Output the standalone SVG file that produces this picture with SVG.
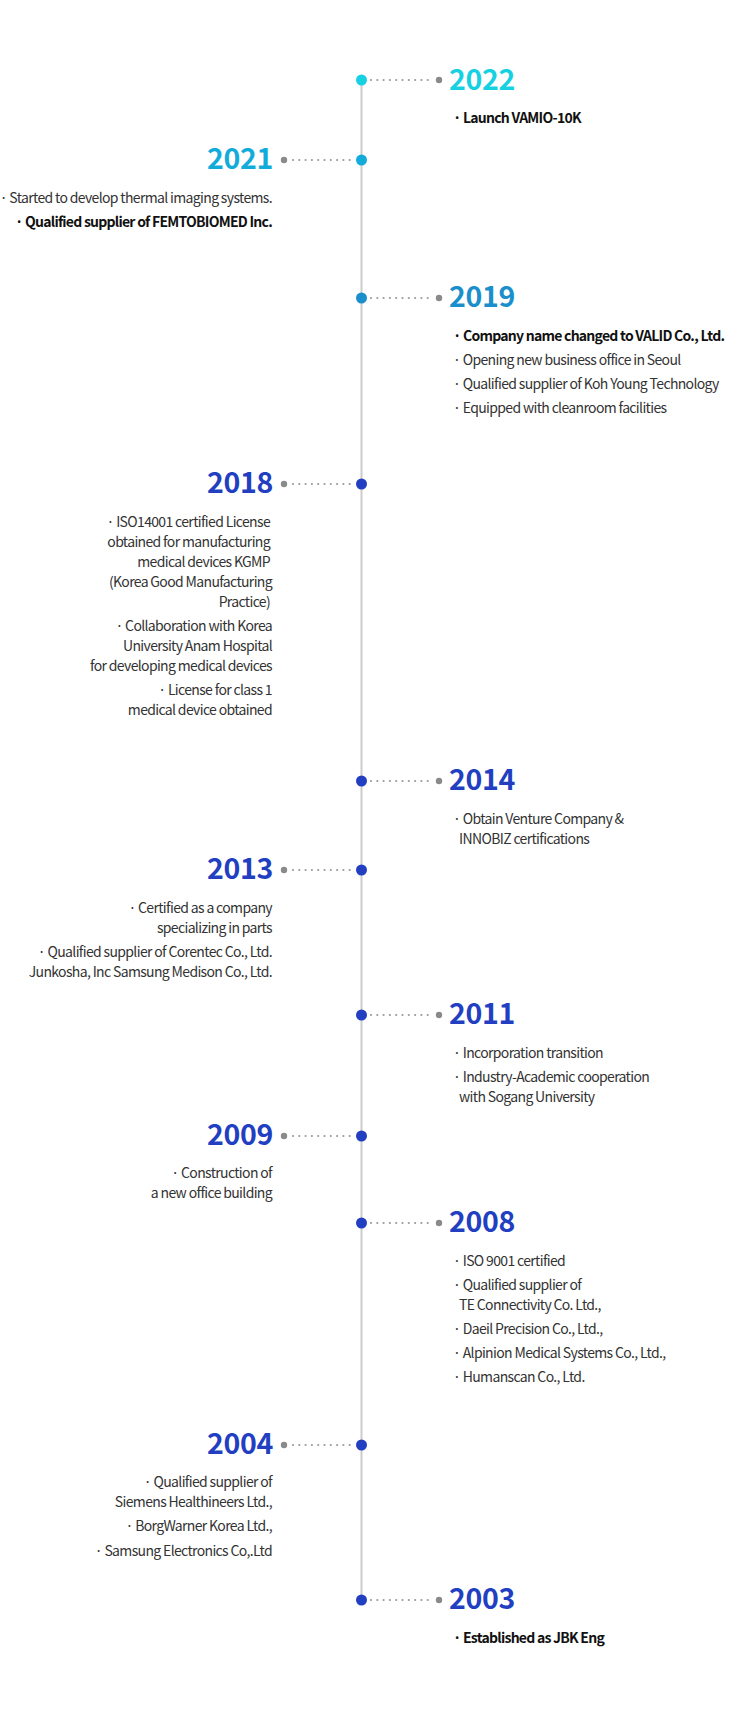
<svg xmlns="http://www.w3.org/2000/svg" width="740" height="1716" viewBox="0 0 740 1716">
<style>
text{font-family:"Noto Sans CJK KR","Noto Sans",sans-serif}
.yr{font-size:28.5px;font-weight:600;letter-spacing:-0.3px}
.it{font-size:14px;fill:#333;letter-spacing:-0.65px}
.b{font-weight:700;fill:#111;letter-spacing:-0.75px}
.l{text-anchor:end}
.c1{fill:#17d1e3}.c2{fill:#13abda}.c3{fill:#1b8fcb}.c4{fill:#223fc2}
.dots{stroke:#9a9a9a;stroke-width:2.2;stroke-linecap:round;stroke-dasharray:0 6.3;fill:none}
.gd{fill:#8a8a8a}
</style>
<rect width="740" height="1716" fill="#fff"/>
<g id="connectors">
<line x1="361.5" y1="80" x2="361.5" y2="1600" stroke="#cccccc" stroke-width="2"/>
<line class="dots" x1="371" y1="80" x2="431" y2="80"/><circle class="gd" cx="439" cy="80" r="3.2"/>
<line class="dots" x1="293" y1="160" x2="353" y2="160"/><circle class="gd" cx="284" cy="160" r="3.2"/>
<line class="dots" x1="371" y1="298" x2="431" y2="298"/><circle class="gd" cx="439" cy="298" r="3.2"/>
<line class="dots" x1="293" y1="484" x2="353" y2="484"/><circle class="gd" cx="284" cy="484" r="3.2"/>
<line class="dots" x1="371" y1="781" x2="431" y2="781"/><circle class="gd" cx="439" cy="781" r="3.2"/>
<line class="dots" x1="293" y1="870" x2="353" y2="870"/><circle class="gd" cx="284" cy="870" r="3.2"/>
<line class="dots" x1="371" y1="1015" x2="431" y2="1015"/><circle class="gd" cx="439" cy="1015" r="3.2"/>
<line class="dots" x1="293" y1="1136" x2="353" y2="1136"/><circle class="gd" cx="284" cy="1136" r="3.2"/>
<line class="dots" x1="371" y1="1223" x2="431" y2="1223"/><circle class="gd" cx="439" cy="1223" r="3.2"/>
<line class="dots" x1="293" y1="1445" x2="353" y2="1445"/><circle class="gd" cx="284" cy="1445" r="3.2"/>
<line class="dots" x1="371" y1="1600" x2="431" y2="1600"/><circle class="gd" cx="439" cy="1600" r="3.2"/>
</g>
<g id="y2022">
<circle class="c1" cx="361.5" cy="80" r="5.5"/>
<text class="yr c1" x="449" y="90">2022</text>
<text class="it b" x="453" y="123">· Launch VAMIO-10K</text>
</g>
<g id="y2021">
<circle class="c2" cx="361.5" cy="160" r="5.5"/>
<text class="yr c2 l" x="273" y="169">2021</text>
<text class="it l" x="272" y="203">· Started to develop thermal imaging systems.</text>
<text class="it b l" x="272" y="227">· Qualified supplier of FEMTOBIOMED Inc.</text>
</g>
<g id="y2019">
<circle class="c3" cx="361.5" cy="298" r="5.5"/>
<text class="yr c3" x="449" y="307">2019</text>
<text class="it b" x="453" y="341">· Company name changed to VALID Co., Ltd.</text>
<text class="it" x="453" y="365">· Opening new business office in Seoul</text>
<text class="it" x="453" y="389">· Qualified supplier of Koh Young Technology</text>
<text class="it" x="453" y="413">· Equipped with cleanroom facilities</text>
</g>
<g id="y2018">
<circle class="c4" cx="361.5" cy="484" r="5.5"/>
<text class="yr c4 l" x="273" y="493">2018</text>
<text class="it l" x="270" y="527">· ISO14001 certified License</text>
<text class="it l" x="270" y="547">obtained for manufacturing</text>
<text class="it l" x="270" y="567">medical devices KGMP</text>
<text class="it l" x="272" y="587">(Korea Good Manufacturing</text>
<text class="it l" x="270" y="607">Practice)</text>
<text class="it l" x="272" y="631">· Collaboration with Korea</text>
<text class="it l" x="272" y="651">University Anam Hospital</text>
<text class="it l" x="272" y="671">for developing medical devices</text>
<text class="it l" x="272" y="695">· License for class 1</text>
<text class="it l" x="272" y="715">medical device obtained</text>
</g>
<g id="y2014">
<circle class="c4" cx="361.5" cy="781" r="5.5"/>
<text class="yr c4" x="449" y="790">2014</text>
<text class="it" x="453" y="824">· Obtain Venture Company &amp;</text>
<text class="it" x="459" y="844">INNOBIZ certifications</text>
</g>
<g id="y2013">
<circle class="c4" cx="361.5" cy="870" r="5.5"/>
<text class="yr c4 l" x="273" y="879">2013</text>
<text class="it l" x="272" y="913">· Certified as a company</text>
<text class="it l" x="272" y="933">specializing in parts</text>
<text class="it l" x="272" y="957">· Qualified supplier of Corentec Co., Ltd.</text>
<text class="it l" x="272" y="977">Junkosha, Inc Samsung Medison Co., Ltd.</text>
</g>
<g id="y2011">
<circle class="c4" cx="361.5" cy="1015" r="5.5"/>
<text class="yr c4" x="449" y="1024">2011</text>
<text class="it" x="453" y="1058">· Incorporation transition</text>
<text class="it" x="453" y="1082">· Industry-Academic cooperation</text>
<text class="it" x="459" y="1102">with Sogang University</text>
</g>
<g id="y2009">
<circle class="c4" cx="361.5" cy="1136" r="5.5"/>
<text class="yr c4 l" x="273" y="1145">2009</text>
<text class="it l" x="272" y="1178">· Construction of</text>
<text class="it l" x="272" y="1198">a new office building</text>
</g>
<g id="y2008">
<circle class="c4" cx="361.5" cy="1223" r="5.5"/>
<text class="yr c4" x="449" y="1232">2008</text>
<text class="it" x="453" y="1266">· ISO 9001 certified</text>
<text class="it" x="453" y="1290">· Qualified supplier of</text>
<text class="it" x="459" y="1310">TE Connectivity Co. Ltd.,</text>
<text class="it" x="453" y="1334">· Daeil Precision Co., Ltd.,</text>
<text class="it" x="453" y="1358">· Alpinion Medical Systems Co., Ltd.,</text>
<text class="it" x="453" y="1382">· Humanscan Co., Ltd.</text>
</g>
<g id="y2004">
<circle class="c4" cx="361.5" cy="1445" r="5.5"/>
<text class="yr c4 l" x="273" y="1454">2004</text>
<text class="it l" x="272" y="1487">· Qualified supplier of</text>
<text class="it l" x="272" y="1507">Siemens Healthineers Ltd.,</text>
<text class="it l" x="272" y="1531">· BorgWarner Korea Ltd.,</text>
<text class="it l" x="272" y="1556">· Samsung Electronics Co,.Ltd</text>
</g>
<g id="y2003">
<circle class="c4" cx="361.5" cy="1600" r="5.5"/>
<text class="yr c4" x="449" y="1609">2003</text>
<text class="it b" x="453" y="1643">· Established as JBK Eng</text>
</g>
</svg>
